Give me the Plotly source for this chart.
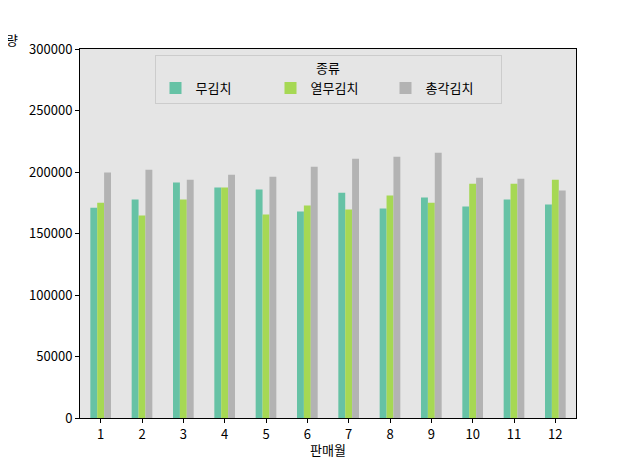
import plotly.graph_objects as go

# 판매월 / 종류별 판매량
months = [str(m) for m in range(1, 13)]
mu = [171000, 177600, 191400, 187300, 185700, 167800, 183200, 170300, 179200, 171900, 177600, 173500]
yeolmu = [175100, 164600, 177600, 187300, 165400, 172700, 169500, 180800, 175100, 190500, 190500, 193800]
chonggak = [199500, 201900, 193800, 197800, 196200, 204300, 210800, 212400, 215700, 195400, 194600, 184900]

series = [("무김치", mu, "#66c2a5"),
          ("열무김치", yeolmu, "#a6d854"),
          ("총각김치", chonggak, "#b3b3b3")]

font = "Noto Sans CJK KR"

fig = go.Figure()
for name, vals, color in series:
    fig.add_trace(go.Bar(x=months, y=vals, name=name, marker_color=color,
                         marker_line_width=0))

# the page body adds an 8px margin, so the figure is a bit smaller than the window
fig.update_layout(
    width=601, height=450,
    margin=dict(l=72, r=33, t=41, b=40, autoexpand=False),
    paper_bgcolor="white",
    plot_bgcolor="#e5e5e5",
    font=dict(family=font, size=13, color="black"),
    barmode="group", bargap=0.5, bargroupgap=0,
    legend=dict(
        orientation="h",
        x=0.5, xanchor="center", y=0.983, yanchor="top",
        title=dict(text="종류", side="top center", font=dict(size=13)),
        bgcolor="rgba(229,229,229,0.8)",
        bordercolor="#cccccc", borderwidth=1,
        entrywidth=70,
        font=dict(size=13),
    ),
    showlegend=True,
)

fig.update_xaxes(
    type="category", range=[-0.5, 11.5], automargin=False,
    showline=True, linecolor="black", linewidth=1, mirror=True,
    ticks="outside", ticklen=4, tickcolor="black",
    showgrid=False,
)
fig.update_yaxes(
    range=[0, 300000], dtick=50000, tickformat="d", automargin=False,
    showline=True, linecolor="black", linewidth=1, mirror=True,
    ticks="outside", ticklen=4, tickcolor="black",
    showgrid=False, zeroline=False,
)

# axis labels as annotations (y label sits flat at top left, partly off the page)
fig.add_annotation(text="판매월", xref="paper", yref="paper",
                   x=0.5, y=-0.085, xanchor="center", yanchor="middle",
                   showarrow=False, font=dict(size=13, color="black"))
fig.add_annotation(text="판매량", xref="paper", yref="paper",
                   x=-0.12, y=1.026, xanchor="right", yanchor="middle",
                   showarrow=False, font=dict(size=13, color="black"))

fig.write_html("out.html")
